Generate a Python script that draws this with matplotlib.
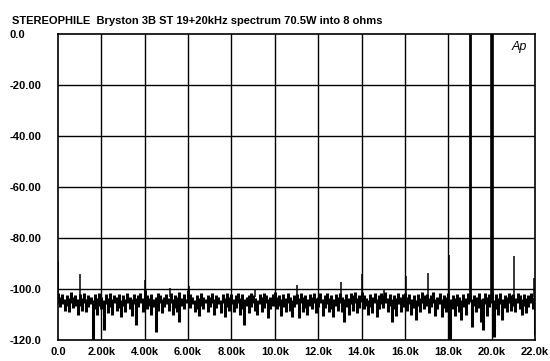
"""Bryston 3B ST 19+20kHz twin-tone spectrum, 70.5W into 8 ohms"""

import numpy as np
import matplotlib
matplotlib.use("Agg")
import matplotlib.pyplot as plt

plt.rcParams["font.family"] = ["Liberation Sans", "DejaVu Sans"]

# Noise floor per 0.1 kHz bin, 0 to 22 kHz: upper and lower edge of the trace (dB)
noise_top = [
    -101.5, -103, -102, -104, -102.5, -103.5, -101, -103, -102.5, -104,
    -102, -103.5, -101.5, -104, -102.5, -103, -104.5, -102, -103.5, -101.5,
    -103, -104.5, -102, -103.5, -101.5, -104, -102.5, -103, -102, -104.5,
    -102.5, -104, -101.5, -103, -104, -102, -103.5, -102.5, -101.5, -103.5,
    -100.5, -102.5, -103.5, -102, -104, -103, -101.5, -102.5, -104, -103,
    -102, -103.5, -101.5, -104, -102.5, -103, -101, -103.5, -102, -104,
    -100.5, -102, -103, -104.5, -102.5, -103.5, -101.5, -103, -104, -102.5,
    -103, -101.5, -104, -102.5, -103, -104.5, -102, -103.5, -101.5, -103,
    -102, -104, -102.5, -101.5, -103.5, -102, -104, -103, -102.5, -101.5,
    -102.5, -103.5, -104.5, -102, -103, -101.5, -102.5, -104, -103, -102,
    -101, -103, -102.5, -104, -102, -103.5, -101.5, -103, -104.5, -102.5,
    -102, -103.5, -101.5, -103, -102.5, -104, -102, -103, -101.5, -103.5,
    -103, -101.5, -104, -102.5, -101.5, -103.5, -102.5, -104, -102, -103,
    -101.5, -103, -104, -102, -103.5, -101.5, -102.5, -101, -103.5, -102.5,
    -101, -102.5, -103.5, -104.5, -102, -103, -101.5, -104, -102.5, -101.5,
    -102.5, -101, -103.5, -102, -104, -102.5, -103.5, -101.5, -103, -102,
    -101.5, -103, -102, -104, -102.5, -104.5, -102, -103.5, -101, -102.5,
    -102, -103.5, -102.5, -101, -104, -103, -101.5, -104, -102.5, -103,
    -101.5, -104, -102.5, -103.5, -102, -103, -104.5, -102, -103.5, -101.5,
    -102, -104, -102.5, -103, -101.5, -104, -103.5, -101.5, -103, -102,
    -101, -104.5, -102, -103.5, -101.5, -104, -102.5, -103, -101.5, -102.5,
    -102, -103.5, -101.5, -102.5, -104, -102, -103.5, -102.5, -101.5, -103,
    -104,
]
noise_bottom = [
    -105.5, -107, -106, -108.5, -106.5, -109, -105.5, -107.5, -106.5, -110,
    -106.5, -108.5, -105.5, -109, -107, -106, -120, -108, -110, -106.5,
    -108, -116, -106, -109.5, -107, -110, -105.5, -108.5, -107.5, -111,
    -106.5, -109, -105.5, -108, -110.5, -106, -114, -107, -105.5, -109,
    -105, -108, -106.5, -110, -107, -117, -108.5, -105.5, -109.5, -107,
    -106, -108.5, -105.5, -110, -107.5, -109, -113, -106.5, -108, -105.5,
    -104.5, -107.5, -106, -109, -108, -110.5, -106.5, -108, -105.5, -109,
    -107, -105.5, -110, -107.5, -106, -109.5, -105.5, -111, -107, -108.5,
    -106, -109, -107.5, -105.5, -110, -108, -114, -106.5, -109.5, -107,
    -105.5, -108.5, -110, -106, -109, -107.5, -105.5, -111.5, -108, -106.5,
    -105, -108, -106.5, -110.5, -107, -109, -105.5, -108.5, -111, -107,
    -106, -111.5, -105.5, -109, -107.5, -110, -106.5, -108, -105.5, -109.5,
    -107, -105.5, -110.5, -107.5, -106, -109, -108, -111, -106.5, -108.5,
    -105.5, -109, -113, -107, -110, -106, -108.5, -105.5, -109.5, -107.5,
    -105, -108, -106.5, -110, -107, -109.5, -105.5, -111, -108, -106,
    -107.5, -105.5, -109, -106.5, -113, -108, -110.5, -106, -109, -107,
    -105.5, -108.5, -106, -110, -107.5, -112, -106.5, -109, -105.5, -108,
    -106.5, -109.5, -107, -105.5, -110.5, -108, -106, -111, -107.5, -109,
    -105.5, -120, -108, -110.5, -106.5, -109, -112, -107, -110, -106,
    -105, -115, -106.5, -109, -107.5, -113, -116, -106, -110.5, -107,
    -105.5, -119, -108, -110, -106, -112, -107.5, -109, -105.5, -108.5,
    -106.5, -109, -105.5, -108, -110, -106.5, -109.5, -107, -105.5, -108,
    -118,
]
freq_khz = np.arange(len(noise_top)) * 0.1

# Discrete spuriae (kHz, dB)
spur_khz = [0.02, 1.0, 4.0, 5.15, 6.05, 9.1, 11.02, 13.05, 14.0, 15.05,
            16.05, 17.05, 18.03, 21.03, 21.95]
spur_db = [-89, -94, -96.5, -99.5, -99, -100, -98.4, -97.2, -94, -100,
           -95, -93.7, -86.6, -87, -95.5]

# The two test tones
tone_khz = [19.0, 20.0]
tone_db = [0.0, 0.0]

x_ticks = np.arange(0, 22.01, 2.0)
x_labels = ["0.0", "2.00k", "4.00k", "6.00k", "8.00k", "10.0k",
            "12.0k", "14.0k", "16.0k", "18.0k", "20.0k", "22.0k"]
y_ticks = [0, -20, -40, -60, -80, -100, -120]
y_labels = ["0.0", "-20.00", "-40.00", "-60.00", "-80.00", "-100.0", "-120.0"]

fig = plt.figure(figsize=(5.5, 3.61), dpi=100)
ax = fig.add_axes([58 / 550, 21 / 361, 477 / 550, 306 / 361])

# grid
for xt in x_ticks[1:-1]:
    ax.axvline(xt, color="black", lw=1.0, zorder=1)
for yt in y_ticks[1:-1]:
    ax.axhline(yt, color="black", lw=1.0, zorder=1)

# spectrum: noise band, spuriae and tones
ax.vlines(freq_khz, noise_bottom, noise_top, color="black", lw=2.2, zorder=3)
ax.vlines(spur_khz, -103, spur_db, color="black", lw=1.1, zorder=3)
ax.vlines(tone_khz, -103, tone_db, color="black", lw=[2.0, 2.6], zorder=3)

ax.set_xlim(0, 22)
ax.set_ylim(-120, 0)
ax.set_xticks(x_ticks)
ax.set_xticklabels(x_labels, fontsize=8, fontweight="bold")
ax.set_yticks(y_ticks)
ax.set_yticklabels(y_labels, fontsize=8, fontweight="bold")
for lab in ax.get_yticklabels():
    lab.set_horizontalalignment("left")
ax.tick_params(axis="y", length=0, pad=48 * 0.72)
ax.tick_params(axis="x", length=0, pad=5)
for sp in ax.spines.values():
    sp.set_linewidth(1.2)

fig.text(12 / 550, 1 - 21 / 361,
         "STEREOPHILE  Bryston 3B ST 19+20kHz spectrum 70.5W into 8 ohms",
         fontsize=8, fontweight="bold", va="center", ha="left")
fig.text(519 / 550, 1 - 47 / 361, "Ap", fontsize=9, fontstyle="italic",
         ha="center", va="center")

fig.savefig("out.png", dpi=100)
